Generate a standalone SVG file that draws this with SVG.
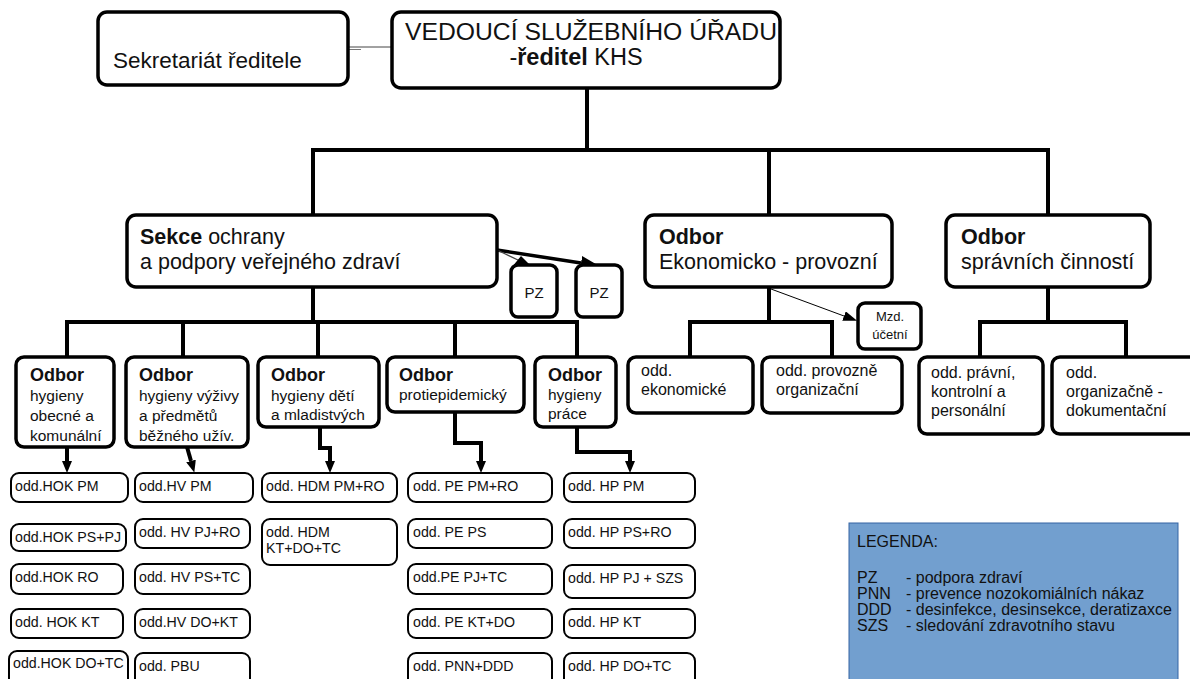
<svg xmlns="http://www.w3.org/2000/svg" width="1190" height="679" viewBox="0 0 1190 679">
  <defs>
    <style>
      text { font-family: "Liberation Sans", Arial, sans-serif; fill: #111; }
      .box { fill: #fff; stroke: #000; stroke-width: 3.5; }
      .sub { fill: #fff; stroke: #000; stroke-width: 2; }
      .wire { fill: none; stroke: #000; stroke-width: 4; stroke-linejoin: miter; }
      .thin { fill: none; stroke: #000; stroke-width: 1; }
      .t22 { font-size: 21.5px; }
      .t16 { font-size: 16px; }
      .t15 { font-size: 15.5px; }
      .t14 { font-size: 14.2px; }
      .hd { font-size: 18px; font-weight: bold; }
      .b { font-weight: bold; }
    </style>
    <marker id="ah" markerUnits="userSpaceOnUse" markerWidth="12" markerHeight="10" refX="0" refY="5" orient="auto">
      <path d="M0,0 L12,5 L0,10 z" fill="#000"/>
    </marker>
    <marker id="ahL" markerUnits="userSpaceOnUse" markerWidth="18" markerHeight="14" refX="0" refY="7" orient="auto">
      <path d="M0,0 L18,7 L0,14 z" fill="#000"/>
    </marker>
    <marker id="ahT" markerUnits="userSpaceOnUse" markerWidth="14" markerHeight="10" refX="0" refY="5" orient="auto">
      <path d="M0,0 L14,5 L0,10 z" fill="#000"/>
    </marker>
  </defs>

  <!-- connectors -->
  <g id="connectors">
    <line x1="349" y1="47" x2="392" y2="47" stroke="#444" stroke-width="1"/>
    <line x1="349" y1="49.5" x2="361" y2="49.5" stroke="#777" stroke-width="1"/>
    <path class="wire" d="M587,88 V150 M311,150 H1050 M313,150 V215 M769,150 V215 M1048,150 V215"/>
    <!-- sekce -> PZ -->
    <path d="M497,250 L581,263" fill="none" stroke="#000" stroke-width="3.5" marker-end="url(#ahL)"/>
    <line x1="497" y1="250" x2="520" y2="261" stroke="#444" stroke-width="1.2"/>
    <polygon points="521,256 512,267 531,266" fill="#000"/>
    <!-- sekce bus -->
    <path class="wire" d="M313,287 V322 M65,322 H579 M67,322 V357 M183,322 V357 M318,322 V357 M455,322 V357 M577,322 V357"/>
    <!-- odbor -> first oddělení -->
    <path class="wire" stroke-width="3.5" d="M67,447 V461" marker-end="url(#ah)"/>
    <path class="wire" stroke-width="3.5" d="M187,447 L191,461" marker-end="url(#ah)"/>
    <path class="wire" stroke-width="3.5" d="M320,427 V448 H330 V461" marker-end="url(#ah)"/>
    <path class="wire" stroke-width="3.5" d="M455,411 V443 H481 V461" marker-end="url(#ah)"/>
    <path class="wire" stroke-width="3.5" d="M577,427 V452 H630 V461" marker-end="url(#ah)"/>
    <!-- ekonomicko-provozní -->
    <path class="wire" d="M769,287 V322 M688,322 H834 M690,322 V357 M832,322 V357"/>
    <path class="thin" d="M771,289 L844,316" marker-end="url(#ahT)"/>
    <!-- správních činností -->
    <path class="wire" d="M1048,287 V322 M978,322 H1128 M980,322 V357 M1126,322 V357"/>
  </g>

  <!-- top level -->
  <g id="sekretariat">
    <rect class="box" x="98" y="12" width="250" height="73" rx="9"/>
    <text x="113" y="68" font-size="22.5">Sekretariát ředitele</text>
  </g>
  <g id="reditel">
    <rect class="box" x="392" y="12" width="388" height="76" rx="9"/>
    <text x="591" y="40" font-size="23.5" text-anchor="middle" textLength="372" lengthAdjust="spacingAndGlyphs">VEDOUCÍ SLUŽEBNÍHO ÚŘADU</text>
    <text x="576" y="65" font-size="23.5" text-anchor="middle">-<tspan class="b">ředitel</tspan> KHS</text>
  </g>

  <!-- second level -->
  <g id="sekce">
    <rect class="box" x="127" y="215" width="370" height="72" rx="9"/>
    <text class="t22" x="140" y="244"><tspan class="b">Sekce</tspan> ochrany</text>
    <text class="t22" x="140" y="269">a podpory veřejného zdraví</text>
  </g>
  <g id="pz1">
    <rect class="box" x="511" y="265" width="46" height="52" rx="7"/>
    <text x="534" y="298" font-size="15" text-anchor="middle">PZ</text>
  </g>
  <g id="pz2">
    <rect class="box" x="576" y="265" width="46" height="52" rx="7"/>
    <text x="599" y="298" font-size="15" text-anchor="middle">PZ</text>
  </g>
  <g id="odbor-ekonomicko-provozni">
    <rect class="box" x="645" y="215" width="247" height="72" rx="9"/>
    <text class="t22 b" x="659" y="244">Odbor</text>
    <text class="t22" x="659" y="269">Ekonomicko - provozní</text>
  </g>
  <g id="odbor-spravnich-cinnosti">
    <rect class="box" x="946" y="215" width="204" height="72" rx="9"/>
    <text class="t22 b" x="961" y="244">Odbor</text>
    <text class="t22" x="961" y="269">správních činností</text>
  </g>
  <g id="mzd-ucetni">
    <rect class="box" x="858" y="303" width="63" height="46" rx="7"/>
    <text x="890" y="321" font-size="13" text-anchor="middle">Mzd.</text>
    <text x="890" y="339" font-size="13" text-anchor="middle">účetní</text>
  </g>

  <!-- odbory of the sekce -->
  <g id="odbor-hok">
    <rect class="box" x="16" y="357" width="98" height="90" rx="8"/>
    <text class="hd" x="30" y="381">Odbor</text>
    <text class="t15" x="30" y="401">hygieny</text>
    <text class="t15" x="30" y="421">obecné a</text>
    <text class="t15" x="30" y="441">komunální</text>
  </g>
  <g id="odbor-hv">
    <rect class="box" x="126" y="357" width="122" height="90" rx="8"/>
    <text class="hd" x="139" y="381">Odbor</text>
    <text class="t15" x="139" y="401">hygieny výživy</text>
    <text class="t15" x="139" y="421">a předmětů</text>
    <text class="t15" x="139" y="441">běžného užív.</text>
  </g>
  <g id="odbor-hdm">
    <rect class="box" x="258" y="357" width="121" height="70" rx="8"/>
    <text class="hd" x="271" y="381">Odbor</text>
    <text class="t15" x="271" y="401">hygieny dětí</text>
    <text class="t15" x="271" y="420">a mladistvých</text>
  </g>
  <g id="odbor-pe">
    <rect class="box" x="387" y="357" width="137" height="55" rx="8"/>
    <text class="hd" x="399" y="381">Odbor</text>
    <text class="t15" x="399" y="400">protiepidemický</text>
  </g>
  <g id="odbor-hp">
    <rect class="box" x="535" y="357" width="81" height="70" rx="8"/>
    <text class="hd" x="548" y="381">Odbor</text>
    <text class="t15" x="548" y="400">hygieny</text>
    <text class="t15" x="548" y="419">práce</text>
  </g>

  <!-- oddělení of the other odbory -->
  <g id="odd-ekonomicke">
    <rect class="box" x="628" y="357" width="125" height="56" rx="8"/>
    <text class="t16" x="641" y="376">odd.</text>
    <text class="t16" x="641" y="395">ekonomické</text>
  </g>
  <g id="odd-provozne-organizacni">
    <rect class="box" x="762" y="357" width="140" height="56" rx="8"/>
    <text class="t16" x="776" y="376">odd. provozně</text>
    <text class="t16" x="776" y="395">organizační</text>
  </g>
  <g id="odd-pravni">
    <rect class="box" x="919" y="357" width="124" height="77" rx="8"/>
    <text class="t16" x="931" y="378">odd. právní,</text>
    <text class="t16" x="931" y="397">kontrolní a</text>
    <text class="t16" x="931" y="416">personální</text>
  </g>
  <g id="odd-organizacne-dokumentacni">
    <rect class="box" x="1052" y="357" width="145" height="77" rx="8"/>
    <text class="t16" x="1066" y="378">odd.</text>
    <text class="t16" x="1066" y="397">organizačně -</text>
    <text class="t16" x="1066" y="416">dokumentační</text>
  </g>

  <!-- HOK -->
  <g id="odd-hok-pm"><rect class="sub" x="11" y="473" width="117" height="29" rx="8"/><text class="t14" x="15" y="491">odd.HOK PM</text></g>
  <g id="odd-hok-ps-pj"><rect class="sub" x="11" y="524" width="115" height="27" rx="8"/><text class="t14" x="15" y="542">odd.HOK PS+PJ</text></g>
  <g id="odd-hok-ro"><rect class="sub" x="11" y="564" width="112" height="30" rx="8"/><text class="t14" x="15" y="582">odd.HOK RO</text></g>
  <g id="odd-hok-kt"><rect class="sub" x="11" y="609" width="112" height="29" rx="8"/><text class="t14" x="15" y="627">odd. HOK KT</text></g>
  <g id="odd-hok-do-tc"><rect class="sub" x="9" y="651" width="119" height="40" rx="8"/><text class="t14" x="13" y="668">odd.HOK DO+TC</text></g>

  <!-- HV -->
  <g id="odd-hv-pm"><rect class="sub" x="135" y="473" width="118" height="29" rx="8"/><text class="t14" x="139" y="491">odd.HV PM</text></g>
  <g id="odd-hv-pj-ro"><rect class="sub" x="135" y="519" width="115" height="29" rx="8"/><text class="t14" x="139" y="537">odd. HV PJ+RO</text></g>
  <g id="odd-hv-ps-tc"><rect class="sub" x="135" y="564" width="115" height="30" rx="8"/><text class="t14" x="139" y="582">odd. HV PS+TC</text></g>
  <g id="odd-hv-do-kt"><rect class="sub" x="135" y="609" width="115" height="29" rx="8"/><text class="t14" x="139" y="627">odd.HV DO+KT</text></g>
  <g id="odd-pbu"><rect class="sub" x="135" y="653" width="115" height="40" rx="8"/><text class="t14" x="139" y="671">odd. PBU</text></g>

  <!-- HDM -->
  <g id="odd-hdm-pm-ro"><rect class="sub" x="262" y="473" width="135" height="29" rx="8"/><text class="t14" x="266" y="491">odd. HDM PM+RO</text></g>
  <g id="odd-hdm-kt-do-tc"><rect class="sub" x="262" y="519" width="135" height="46" rx="8"/><text class="t14" x="266" y="537">odd. HDM</text><text class="t14" x="266" y="553">KT+DO+TC</text></g>

  <!-- PE -->
  <g id="odd-pe-pm-ro"><rect class="sub" x="408" y="473" width="144" height="29" rx="8"/><text class="t14" x="413" y="491">odd. PE PM+RO</text></g>
  <g id="odd-pe-ps"><rect class="sub" x="408" y="519" width="144" height="29" rx="8"/><text class="t14" x="413" y="537">odd. PE PS</text></g>
  <g id="odd-pe-pj-tc"><rect class="sub" x="408" y="564" width="144" height="30" rx="8"/><text class="t14" x="413" y="582">odd.PE PJ+TC</text></g>
  <g id="odd-pe-kt-do"><rect class="sub" x="408" y="609" width="144" height="29" rx="8"/><text class="t14" x="413" y="627">odd. PE KT+DO</text></g>
  <g id="odd-pnn-ddd"><rect class="sub" x="408" y="653" width="144" height="40" rx="8"/><text class="t14" x="413" y="671">odd. PNN+DDD</text></g>

  <!-- HP -->
  <g id="odd-hp-pm"><rect class="sub" x="564" y="473" width="131" height="29" rx="8"/><text class="t14" x="568" y="491">odd. HP PM</text></g>
  <g id="odd-hp-ps-ro"><rect class="sub" x="564" y="519" width="131" height="29" rx="8"/><text class="t14" x="568" y="537">odd. HP PS+RO</text></g>
  <g id="odd-hp-pj-szs"><rect class="sub" x="564" y="565" width="131" height="33" rx="8"/><text class="t14" x="568" y="583">odd. HP PJ + SZS</text></g>
  <g id="odd-hp-kt"><rect class="sub" x="564" y="609" width="131" height="29" rx="8"/><text class="t14" x="568" y="627">odd. HP KT</text></g>
  <g id="odd-hp-do-tc"><rect class="sub" x="564" y="653" width="131" height="40" rx="8"/><text class="t14" x="568" y="671">odd. HP DO+TC</text></g>

  <!-- legend -->
  <g id="legenda">
    <rect x="849" y="523" width="329" height="170" fill="#729fcf" stroke="#3465a4" stroke-width="1"/>
    <text class="t16" x="857" y="547">LEGENDA:</text>
    <text class="t16" x="857" y="583">PZ</text><text class="t16" x="906" y="583">- podpora zdraví</text>
    <text class="t16" x="857" y="599">PNN</text><text class="t16" x="906" y="599">- prevence nozokomiálních nákaz</text>
    <text class="t16" x="857" y="615">DDD</text><text class="t16" x="906" y="615">- desinfekce, desinsekce, deratizaxce</text>
    <text class="t16" x="857" y="631">SZS</text><text class="t16" x="906" y="631">- sledování zdravotního stavu</text>
  </g>
</svg>
